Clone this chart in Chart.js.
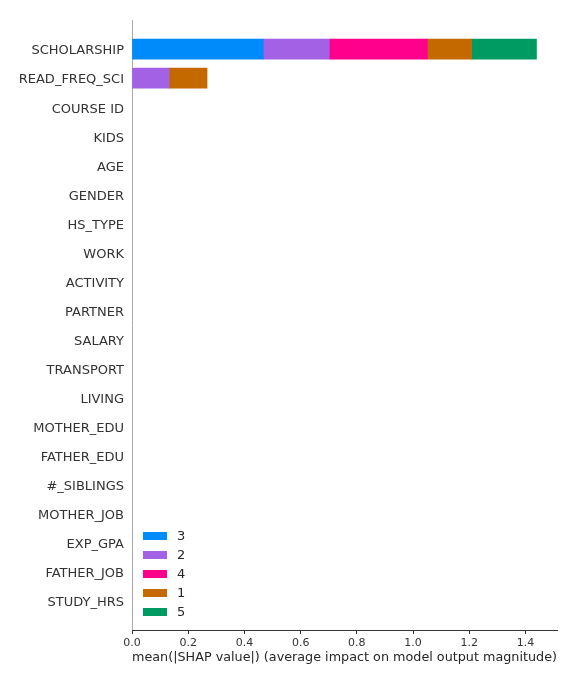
<!DOCTYPE html>
<html>
<head>
<meta charset="utf-8">
<script src="https://cdn.jsdelivr.net/npm/chart.js@4"></script>
<style>
  html, body { margin: 0; padding: 0; background: #fff; }
  #wrap { width: 576px; height: 684px; }
</style>
</head>
<body>
<div id="wrap"><canvas id="shapChart" width="576" height="684"></canvas></div>
<script>
const features = [
  'SCHOLARSHIP', 'READ_FREQ_SCI', 'COURSE ID', 'KIDS', 'AGE', 'GENDER',
  'HS_TYPE', 'WORK', 'ACTIVITY', 'PARTNER', 'SALARY', 'TRANSPORT', 'LIVING',
  'MOTHER_EDU', 'FATHER_EDU', '#_SIBLINGS', 'MOTHER_JOB', 'EXP_GPA',
  'FATHER_JOB', 'STUDY_HRS'
]

// mean |SHAP| per class, in legend / stacking order
const classNames = ['3', '2', '4', '1', '5']
const class3 = [0.467, 0, 0, 0, 0, 0, 0, 0, 0, 0, 0, 0, 0, 0, 0, 0, 0, 0, 0, 0]
const class2 = [0.235, 0.132, 0, 0, 0, 0, 0, 0, 0, 0, 0, 0, 0, 0, 0, 0, 0, 0, 0, 0]
const class4 = [0.349, 0, 0, 0, 0, 0, 0, 0, 0, 0, 0, 0, 0, 0, 0, 0, 0, 0, 0, 0]
const class1 = [0.157, 0.135, 0, 0, 0, 0, 0, 0, 0, 0, 0, 0, 0, 0, 0, 0, 0, 0, 0, 0]
const class5 = [0.231, 0, 0, 0, 0, 0, 0, 0, 0, 0, 0, 0, 0, 0, 0, 0, 0, 0, 0, 0]
const classColors = ['#008bfb', '#a362e6', '#ff008c', '#c46900', '#009b63']

const xTicks = [0, 0.2, 0.4, 0.6, 0.8, 1.0, 1.2, 1.4]

// empty labels at both ends give the half-row gaps above and below
const labels = [''].concat(features, [''])
// zero-width bars would still leave a hairline, so skip them
const pad = arr => [null].concat(arr.map(v => (v === 0 ? null : v)), [null])

const seriesValues = [class3, class2, class4, class1, class5]
const datasets = seriesValues.map((vals, i) => ({
  label: classNames[i],
  data: pad(vals),
  backgroundColor: classColors[i],
  borderWidth: 0,
  barThickness: 20
}))

const legendInside = {
  id: 'legendInside',
  afterDraw: chart => {
    const ctx = chart.ctx
    ctx.save()
    ctx.font = '13px "DejaVu Sans"'
    ctx.textBaseline = 'middle'
    chart.data.datasets.forEach((ds, i) => {
      const y = 536 + i * 19
      ctx.fillStyle = ds.backgroundColor
      ctx.fillRect(143, y - 4, 24, 8)
      ctx.fillStyle = '#262626'
      ctx.fillText(ds.label, 177, y + 1)
    })
    ctx.restore()
  }
}

const ctx = document.getElementById('shapChart').getContext('2d')
new Chart(ctx, {
  type: 'bar',
  data: { labels, datasets },
  options: {
    indexAxis: 'y',
    responsive: false,
    animation: false,
    layout: { padding: { top: 20, right: 19, left: 0, bottom: 19 } },
    plugins: {
      legend: { display: false },
      tooltip: { enabled: false }
    },
    scales: {
      y: {
        type: 'category',
        stacked: true,
        offset: false,
        grid: { display: false, drawTicks: false },
        border: { display: true, color: '#aaaaaa', width: 1 },
        ticks: {
          color: '#333333',
          padding: 8,
          labelOffset: 2,
          autoSkip: false,
          font: { family: 'DejaVu Sans', size: 13 }
        },
        afterFit: scale => { scale.width = 132 }
      },
      x: {
        type: 'linear',
        stacked: true,
        min: 0,
        max: 1.512,
        grid: {
          display: true,
          drawOnChartArea: false,
          drawTicks: true,
          tickLength: 4,
          tickColor: '#333333'
        },
        border: { display: true, color: '#333333', width: 1 },
        afterBuildTicks: scale => {
          scale.ticks = xTicks.map(v => ({ value: v }))
        },
        ticks: {
          color: '#333333',
          padding: 3,
          font: { family: 'DejaVu Sans', size: 11 },
          callback: v => Number(v).toFixed(1)
        },
        title: {
          display: true,
          text: 'mean(|SHAP value|) (average impact on model output magnitude)',
          color: '#262626',
          padding: { top: 2, bottom: 0 },
          font: { family: 'DejaVu Sans', size: 13 }
        },
        afterFit: scale => { scale.height = 35 }
      }
    }
  },
  plugins: [legendInside]
})
</script>
</body>
</html>
